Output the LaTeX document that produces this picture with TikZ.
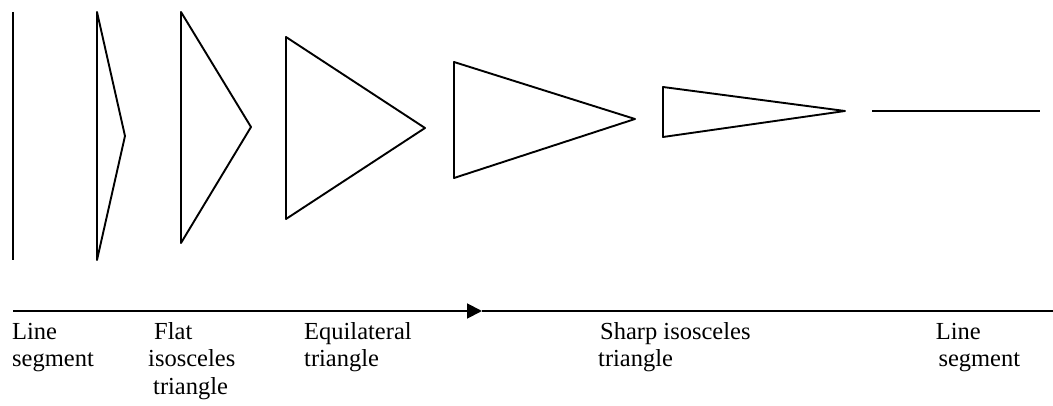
\documentclass[tikz,border=0pt]{standalone}
\usepackage{fontspec}
\setmainfont{Liberation Serif}
\usetikzlibrary{arrows.meta}
\begin{document}
\begin{tikzpicture}[x=1pt,y=-1pt,
  figline/.style={line width=1.9pt,line join=round},
  lbl/.style={anchor=base west,inner sep=0pt,align=left,font=\fontsize{24.5}{27.7}\selectfont}]
\useasboundingbox (0,0) rectangle (1053,406);
% shapes
\coordinate (s1a) at (13,12); \coordinate (s1b) at (13,260);
\draw[figline] (s1a) -- (s1b);
\coordinate (t1a) at (97,12); \coordinate (t1b) at (97,260); \coordinate (t1c) at (125,136);
\draw[figline] (t1a) -- (t1b) -- (t1c) -- cycle;
\coordinate (t2a) at (181,12); \coordinate (t2b) at (181,243); \coordinate (t2c) at (251,127);
\draw[figline] (t2a) -- (t2b) -- (t2c) -- cycle;
\coordinate (t3a) at (286,37); \coordinate (t3b) at (286,219); \coordinate (t3c) at (425,128);
\draw[figline] (t3a) -- (t3b) -- (t3c) -- cycle;
\coordinate (t4a) at (454,62); \coordinate (t4b) at (454,178); \coordinate (t4c) at (635,119);
\draw[figline] (t4a) -- (t4b) -- (t4c) -- cycle;
\coordinate (t5a) at (663,87); \coordinate (t5b) at (663,137); \coordinate (t5c) at (845,111);
\draw[figline] (t5a) -- (t5b) -- (t5c) -- cycle;
\coordinate (s2a) at (872,111); \coordinate (s2b) at (1040,111);
\draw[figline] (s2a) -- (s2b);
% axis
\coordinate (axL) at (13,311); \coordinate (axM) at (482,311); \coordinate (axR) at (1053,311);
\draw[figline,-{Triangle[length=15pt,width=15pt]}] (axL) -- (axM);
\draw[figline] (axM) -- (axR);
% labels (anchored at the baseline of the last line)
\node[lbl] (l1) at (12,366.7) {Line\\segment};
\node[lbl] (l2) at (148,394.4) {\hspace*{6pt}Flat\\isosceles\\\hspace*{5pt}triangle};
\node[lbl] (l3) at (304,366.7) {Equilateral\\triangle};
\node[lbl] (l4) at (598,366.7) {\hspace*{2pt}Sharp isosceles\\triangle};
\node[lbl] (l5) at (935.7,366.7) {Line\\\hspace*{2.6pt}segment};
\end{tikzpicture}
\end{document}
